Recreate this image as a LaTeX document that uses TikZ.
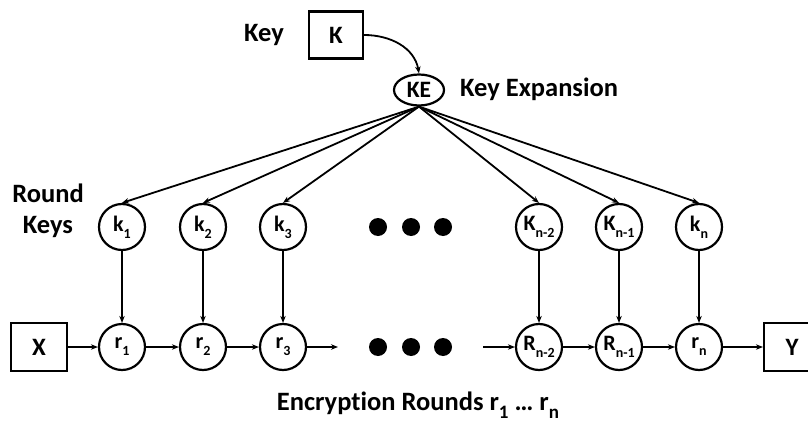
\documentclass[tikz,border=0pt]{standalone}
\usepackage{fontspec}
\setmainfont{Carlito}[Ligatures=NoCommon]
\usetikzlibrary{arrows.meta,shapes.geometric}

% lowered small index, as in k_1 or R_{n-2}
\newcommand\lowidx[2][14]{\raisebox{-0.32em}{\fontsize{#1}{#1}\selectfont #2}}

\tikzset{
  rnd/.style={circle, draw, line width=2.2pt, minimum size=46pt, inner sep=0pt,
              font=\fontsize{22}{22}\selectfont\bfseries},
  io/.style={draw, line width=2.2pt, minimum width=56pt, minimum height=48pt, inner sep=0pt,
             font=\fontsize{25}{25}\selectfont\bfseries},
  lbl/.style={font=\fontsize{26.5}{31}\selectfont\bfseries, align=center, inner sep=0pt},
  link/.style={-{Stealth[length=7pt,width=5.5pt]}, line width=1.8pt},
  bigdot/.style={circle, fill, minimum size=18pt, inner sep=0pt},
}

\begin{document}
\begin{tikzpicture}[x=1pt,y=-1pt]
  \useasboundingbox (0,0) rectangle (808,425);
  \begin{scope}
  \clip (0,0) rectangle (808,425);

  % key input and expansion
  \node[io, minimum width=54pt, minimum height=47pt] (K) at (336,35) {K};
  \node[lbl] (keylbl) at (264,35) {Key};
  \node[ellipse, draw, line width=2.2pt, minimum width=50pt, minimum height=31pt, inner sep=0pt,
        font=\fontsize{23.5}{23.5}\selectfont\bfseries] (KE) at (419,90) {KE};
  \node[lbl, anchor=west] (kelbl) at (460,89) {Key Expansion};
  \draw[link] (K.east) to[out=0,in=100] (KE.north);

  % round keys
  \node[lbl] (rklbl) at (48,211) {Round\\Keys};
  \node[rnd] (k1) at (122,227) {k\lowidx{1}};
  \node[rnd] (k2) at (203,227) {k\lowidx{2}};
  \node[rnd] (k3) at (283,227) {k\lowidx{3}};
  \node[rnd] (k4) at (539,227) {K\lowidx{n-2}};
  \node[rnd] (k5) at (619,227) {K\lowidx{n-1}};
  \node[rnd] (k6) at (699,227) {k\lowidx{n}};
  \node[bigdot] (td1) at (378,227) {};
  \node[bigdot] (td2) at (411,227) {};
  \node[bigdot] (td3) at (443,227) {};

  % encryption rounds
  \node[io] (X) at (39,347) {X};
  \node[io] (Y) at (792,347) {Y};
  \node[rnd] (r1) at (122,347) {r\lowidx{1}};
  \node[rnd] (r2) at (203,347) {r\lowidx{2}};
  \node[rnd] (r3) at (283,347) {r\lowidx{3}};
  \node[rnd] (r4) at (539,347) {R\lowidx{n-2}};
  \node[rnd] (r5) at (619,347) {R\lowidx{n-1}};
  \node[rnd] (r6) at (699,347) {r\lowidx{n}};
  \node[bigdot] (bd1) at (378,347) {};
  \node[bigdot] (bd2) at (411,347) {};
  \node[bigdot] (bd3) at (443,347) {};
  \coordinate (gapin) at (338,347);
  \coordinate (gapout) at (483,347);

  \node[lbl] (enclbl) at (418,405) {Encryption Rounds r\lowidx[19]{1} \dots\ r\lowidx[19]{n}};

  % key schedule fan-out
  \foreach \k in {k1,k2,k3,k4,k5,k6}
    \draw[link] (KE.south) -- (\k.north);
  % round keys into rounds
  \foreach \i in {1,...,6}
    \draw[link] (k\i) -- (r\i);

  % data path
  \draw[link] (X) -- (r1);
  \draw[link] (r1) -- (r2);
  \draw[link] (r2) -- (r3);
  \draw[link] (r3) -- (gapin);
  \draw[link] (gapout) -- (r4);
  \draw[link] (r4) -- (r5);
  \draw[link] (r5) -- (r6);
  \draw[link] (r6) -- (Y);
  \end{scope}
\end{tikzpicture}
\end{document}
